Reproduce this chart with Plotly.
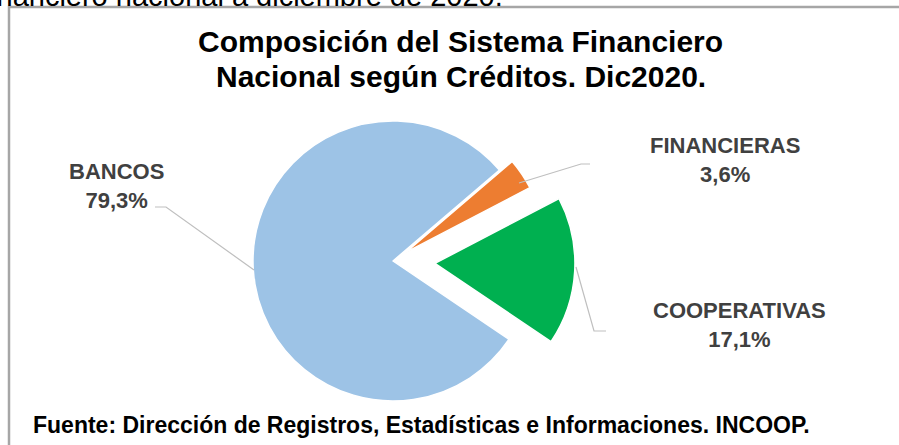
import plotly.graph_objects as go

# Datos del gráfico (Dic 2020)
labels = ["BANCOS", "FINANCIERAS", "COOPERATIVAS"]
shares = [79.3, 3.6, 17.1]
pulls = [0, 0.11, 0.3]
colors = ["#9DC3E6", "#ED7D31", "#00B050"]

W, H = 899, 445


def px(x):
    return x / W


def py(y):
    return 1 - y / H


def fmt(v):
    return f"{v:.1f}%".replace(".", ",")


fig = go.Figure()

# pie centre ~ (393, 261), radius ~140 px
r = 140
half = r * (1 + max(pulls))
cx, cy = 393, 261

fig.add_trace(go.Pie(labels=labels,
                     values=shares,
                     pull=pulls,
                     sort=False,
                     direction="clockwise",
                     rotation=124,
                     textinfo="none",
                     hoverinfo="label+percent",
                     marker=dict(colors=colors, line=dict(color="white", width=1.5)),
                     domain=dict(x=[px(cx - half), px(cx + half)],
                                 y=[py(cy + half), py(cy - half)]),
                     showlegend=False))

font = "Liberation Sans, Arial"

# label positions (centre of the two-line label)
label_pos = [(116, 186), (725, 160), (739, 325)]
annotations = []
for lab, val, (x, y) in zip(labels, shares, label_pos):
    annotations.append(dict(x=px(x), y=py(y), xref="paper", yref="paper",
                            text=f"<b>{lab}<br>{fmt(val)}</b>", showarrow=False,
                            xanchor="center", yanchor="middle",
                            font=dict(family=font, size=22, color="#404040")))

title_lines = ["Composición del Sistema Financiero", "Nacional según Créditos. Dic2020."]
for line, y in zip(title_lines, [42, 76]):
    annotations.append(dict(x=px(461), y=py(y), xref="paper", yref="paper",
                            text=f"<b>{line}</b>", showarrow=False,
                            xanchor="center", yanchor="middle",
                            font=dict(family=font, size=30, color="black")))

annotations.append(dict(x=px(31), y=py(425), xref="paper", yref="paper",
                        text="<b>Fuente: Dirección de Registros, Estadísticas e Informaciones. INCOOP.</b>",
                        showarrow=False, xanchor="left", yanchor="middle",
                        font=dict(family=font, size=23, color="black")))

# texto del documento cortado arriba
annotations.append(dict(x=px(505), y=py(14), xref="paper", yref="paper",
                        text="financiero nacional a diciembre de 2020.",
                        showarrow=False, xanchor="right", yanchor="bottom",
                        font=dict(family=font, size=29, color="black")))

leader = dict(color="#BFBFBF", width=1.2)
shapes = [
    dict(type="rect", xref="paper", yref="paper",
         x0=px(9), y0=py(7), x1=px(910), y1=py(460),
         line=dict(color="#A6A6A6", width=2.5)),
    dict(type="path", xref="paper", yref="paper", line=leader,
         path=f"M {px(155)} {py(207)} L {px(166)} {py(207)} L {px(254)} {py(270)}"),
    dict(type="path", xref="paper", yref="paper", line=leader,
         path=f"M {px(519)} {py(183)} L {px(581)} {py(164)} L {px(590)} {py(164)}"),
    dict(type="path", xref="paper", yref="paper", line=leader,
         path=f"M {px(576)} {py(267)} L {px(594)} {py(331)} L {px(606)} {py(331)}"),
]

fig.update_layout(width=W, height=H,
                  margin=dict(l=0, r=0, t=0, b=0),
                  paper_bgcolor="white",
                  plot_bgcolor="white",
                  annotations=annotations,
                  shapes=shapes)

fig.write_html("out.html", config={"displayModeBar": False},
               post_script="document.body.style.margin='0';document.body.style.overflow='hidden';")
